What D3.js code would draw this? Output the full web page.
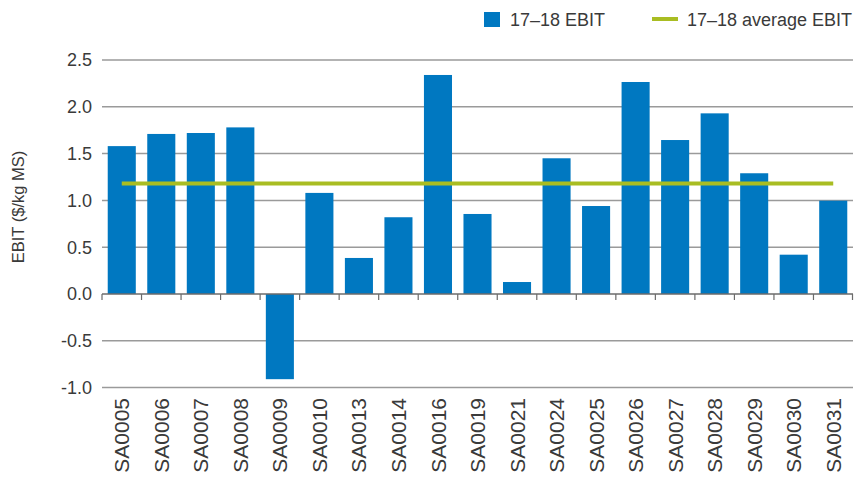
<!DOCTYPE html>
<html>
<head>
<meta charset="utf-8">
<script src="https://cdnjs.cloudflare.com/ajax/libs/d3/7.8.5/d3.min.js"></script>
<style>
  body { margin: 0; background: #fff; }
  svg { display: block; font-family: "Liberation Sans", Arial, sans-serif; }
</style>
</head>
<body>
<div id="chart"></div>
<script>
// farms and their 17-18 EBIT ($/kg MS)
var farms = ["SA0005", "SA0006", "SA0007", "SA0008", "SA0009", "SA0010", "SA0013", "SA0014", "SA0016", "SA0019",
             "SA0021", "SA0024", "SA0025", "SA0026", "SA0027", "SA0028", "SA0029", "SA0030", "SA0031"];
var ebit = [1.58, 1.71, 1.72, 1.78, -0.91, 1.08, 0.385, 0.82, 2.34, 0.855,
            0.128, 1.45, 0.94, 2.265, 1.645, 1.93, 1.29, 0.42, 0.997];
var avgEbit = 1.18;
var yTicks = [-1.0, -0.5, 0.0, 0.5, 1.0, 1.5, 2.0, 2.5];
var seriesNames = ["17\u201318 EBIT", "17\u201318 average EBIT"];

var W = 864, H = 482;
var plotLeft = 102, plotRight = 853, plotTop = 60, plotBottom = 387.6;
var textColor = "#3a3a3a";

var svg = d3.select("#chart").append("svg")
  .attr("width", W)
  .attr("height", H);

var x = d3.scaleBand()
  .domain(farms)
  .range([plotLeft, plotRight])
  .paddingInner(0.29)
  .paddingOuter(0.145);

var y = d3.scaleLinear()
  .domain([-1, 2.5])
  .range([plotBottom, plotTop]);

// gridlines
svg.append("g")
  .selectAll("line")
  .data(yTicks.filter(function(d) { return d !== 0; }))
  .enter()
  .append("line")
  .attr("x1", plotLeft)
  .attr("x2", plotRight)
  .attr("y1", function(d) { return y(d); })
  .attr("y2", function(d) { return y(d); })
  .attr("stroke", "#9a9a9a")
  .attr("stroke-width", 1.5);

// y tick labels (plain hyphen for negatives)
svg.append("g")
  .selectAll("text")
  .data(yTicks)
  .enter()
  .append("text")
  .attr("x", 92)
  .attr("y", function(d) { return y(d); })
  .attr("dy", "0.36em")
  .attr("text-anchor", "end")
  .attr("font-size", "18px")
  .attr("fill", textColor)
  .text(function(d) { return d.toFixed(1); });

// y axis title
svg.append("text")
  .attr("transform", "translate(24,207) rotate(-90)")
  .attr("text-anchor", "middle")
  .attr("font-size", "16.5px")
  .attr("fill", textColor)
  .text("EBIT ($/kg MS)");

// bars
svg.append("g")
  .selectAll("rect")
  .data(ebit)
  .enter()
  .append("rect")
  .attr("x", function(d, i) { return x(farms[i]); })
  .attr("y", function(d) { return y(Math.max(0, d)); })
  .attr("width", x.bandwidth())
  .attr("height", function(d) { return Math.abs(y(d) - y(0)); })
  .attr("fill", "#0078c1");

// zero axis line with category ticks
svg.append("line")
  .attr("x1", plotLeft)
  .attr("x2", plotRight)
  .attr("y1", y(0))
  .attr("y2", y(0))
  .attr("stroke", "#6b6b6b")
  .attr("stroke-width", 1.5);

var step = x.step();
svg.append("g")
  .selectAll("line")
  .data(d3.range(farms.length + 1))
  .enter()
  .append("line")
  .attr("x1", function(i) { return plotLeft + i * step - (i === farms.length ? 0.5 : 0); })
  .attr("x2", function(i) { return plotLeft + i * step - (i === farms.length ? 0.5 : 0); })
  .attr("y1", y(0))
  .attr("y2", y(0) + 6)
  .attr("stroke", "#6b6b6b")
  .attr("stroke-width", 1.2);

// average line
svg.append("line")
  .attr("x1", x(farms[0]) + x.bandwidth() / 2)
  .attr("x2", x(farms[farms.length - 1]) + x.bandwidth() / 2)
  .attr("y1", y(avgEbit))
  .attr("y2", y(avgEbit))
  .attr("stroke", "#a9bd22")
  .attr("stroke-width", 4);

// x labels
svg.append("g")
  .selectAll("text")
  .data(farms)
  .enter()
  .append("text")
  .attr("transform", function(d) {
    return "translate(" + (x(d) + x.bandwidth() / 2) + ",398) rotate(-90)";
  })
  .attr("dy", "0.36em")
  .attr("text-anchor", "end")
  .attr("font-size", "21px")
  .attr("fill", textColor)
  .text(function(d) { return d; });

// legend
var legend = svg.append("g");
legend.append("rect")
  .attr("x", 484)
  .attr("y", 12)
  .attr("width", 16)
  .attr("height", 15)
  .attr("fill", "#0078c1");
legend.append("text")
  .attr("x", 510)
  .attr("y", 26)
  .attr("font-size", "18px")
  .attr("fill", textColor)
  .text(seriesNames[0]);
legend.append("line")
  .attr("x1", 652)
  .attr("x2", 678)
  .attr("y1", 19)
  .attr("y2", 19)
  .attr("stroke", "#a9bd22")
  .attr("stroke-width", 4);
legend.append("text")
  .attr("x", 687)
  .attr("y", 26)
  .attr("font-size", "18px")
  .attr("fill", textColor)
  .text(seriesNames[1]);
</script>
</body>
</html>
